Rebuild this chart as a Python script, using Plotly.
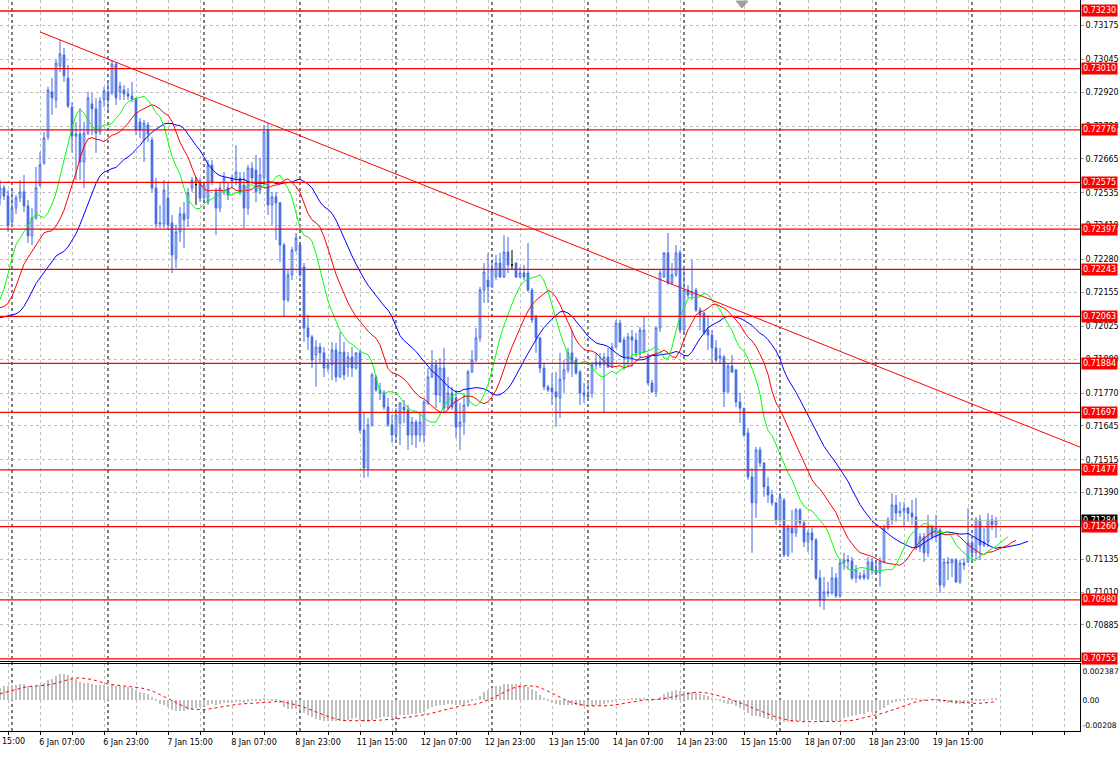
import numpy as np
import pandas as pd
import plotly.graph_objects as go

# ---------------- DATA (prices in points of 0.00001) ----------------
open_pts = [72516,72554,72523,72424,72477,72516,72539,72485,72371,72439,
72565,72649,72749,72921,72890,73020,73062,72974,72863,72752,
72760,72653,72764,72875,72856,72768,72890,72921,72917,73027,
72921,72928,72913,72905,72894,72806,72737,72795,72737,72554,
72416,72416,72516,72420,72286,72386,72455,72439,72554,72567,
72577,72516,72500,72642,72539,72477,72573,72554,72592,72592,
72592,72565,72477,72630,72623,72546,72592,72775,72489,72520,
72497,72336,72126,72222,72317,72336,72252,72019,71985,71916,
71946,71924,71866,71878,71935,71832,71927,71870,71908,71866,
71924,71629,71484,71649,71832,71782,71771,71717,71649,71610,
71656,71717,71706,71610,71660,71610,71610,71733,71832,71878,
71763,71866,71713,71771,71752,71641,71660,71725,71851,71897,
71981,72164,72202,72176,72214,72267,72214,72309,72260,72267,
72214,72229,72229,72164,72061,71981,71866,71794,71790,71775,
71752,71824,71859,71924,71897,71851,71771,71763,71771,71878,
71889,71878,71908,71870,71946,72038,71973,71908,71985,71973,
71924,71927,71908,71809,71775,72019,72214,72306,72191,72222,
72306,72011,72164,72145,72164,72088,72076,72011,71992,71943,
71904,71908,71775,71874,71859,71736,71713,71618,71450,71351,
71553,71503,71412,71381,71351,71286,71362,71152,71255,71236,
71324,71274,71202,71236,71209,71064,70980,71011,71007,71064,
70995,71121,71133,71129,71064,71064,71076,71064,71125,71095,
71083,71125,71255,71286,71343,71312,71320,71331,71312,71297,
71179,71221,71160,71259,71221,71247,71037,71125,71121,71133,
71049,71121,71125,71198,71160,71286,71190,71202,71286,71267]

high_pts = [72584,72565,72546,72554,72527,72584,72604,72508,72477,72634,
72691,72768,72940,72974,73043,73119,73089,73024,72882,72806,
72859,72806,72921,72917,72898,72901,72940,72959,73043,73035,
72959,72947,72936,72959,72901,72821,72814,72806,72749,72592,
72489,72584,72577,72451,72413,72481,72500,72554,72596,72596,
72592,72577,72661,72661,72554,72577,72615,72573,72604,72718,
72615,72615,72642,72653,72680,72668,72795,72802,72539,72539,
72500,72344,72241,72329,72382,72348,72267,72069,71992,71973,
71962,71946,71904,71966,71962,72004,71966,71927,71946,71927,
71935,71698,71675,71847,71840,71809,71782,71752,71687,71713,
71736,71744,71725,71679,71668,71694,71744,71866,71935,71897,
71904,71943,71832,71794,71782,71733,71763,71859,71935,72019,
72176,72267,72306,72279,72298,72306,72374,72367,72317,72271,
72252,72260,72344,72172,72069,71985,71885,71801,71847,71851,
71924,71897,71943,72011,71908,71859,71809,71809,71889,71924,
71924,71924,71943,71962,72050,72050,71985,72000,72011,72000,
72023,72061,71924,71820,72023,72241,72309,72382,72267,72336,
72317,72241,72183,72279,72172,72099,72080,72069,72011,71973,
71943,71916,71885,71916,71859,71771,71713,71637,71484,71565,
71565,71507,71450,71400,71354,71389,71370,71267,71324,71331,
71331,71286,71247,71255,71217,71095,71068,71049,71106,71083,
71133,71160,71152,71144,71114,71087,71095,71144,71140,71133,
71144,71267,71297,71389,71381,71354,71354,71335,71362,71370,
71236,71236,71305,71267,71305,71255,71140,71144,71140,71140,
71133,71140,71331,71210,71297,71305,71255,71312,71305,71297]

low_pts = [72489,72508,72386,72416,72455,72500,72462,72344,72336,72432,
72558,72642,72737,72833,72859,72997,72959,72859,72688,72584,
72584,72554,72756,72756,72688,72756,72863,72844,72909,72871,
72890,72890,72890,72882,72756,72745,72653,72730,72539,72401,
72401,72401,72393,72229,72248,72348,72325,72405,72539,72489,
72500,72500,72489,72565,72374,72462,72527,72508,72554,72565,
72527,72401,72451,72577,72500,72530,72565,72451,72413,72355,
72271,72061,72118,72202,72309,72214,71966,71935,71866,71794,
71885,71832,71851,71820,71813,71828,71820,71832,71832,71859,
71618,71446,71450,71641,71775,71744,71706,71641,71580,71591,
71572,71656,71553,71572,71561,71584,71580,71725,71828,71713,
71733,71698,71706,71706,71599,71553,71610,71717,71847,71889,
71966,72115,72115,72172,72202,72210,72210,72229,72241,72210,
72210,72202,72157,72038,71924,71847,71782,71775,71725,71641,
71675,71771,71847,71832,71840,71725,71733,71752,71752,71859,
71866,71694,71866,71866,71943,71962,71859,71870,71870,71908,
71908,71924,71801,71771,71756,72004,72210,72183,72183,72214,
72000,72000,72134,72126,72080,72011,71992,71935,71885,71889,
71885,71717,71771,71847,71717,71656,71603,71439,71160,71293,
71488,71374,71351,71339,71267,71274,71144,71144,71160,71221,
71259,71182,71163,71133,71056,70953,70942,70992,70999,70988,
70988,71095,71095,71056,71045,71056,71056,71056,71076,71076,
71030,71121,71247,71267,71278,71297,71259,71278,71267,71171,
71163,71125,71144,71210,71202,71007,71026,71056,71068,71045,
71041,71095,71121,71133,71133,71133,71182,71182,71247,71217]

close_pts = [72554,72523,72409,72477,72516,72539,72485,72371,72439,72554,
72642,72745,72928,72898,73031,73066,72982,72867,72752,72760,
72653,72764,72898,72856,72764,72886,72924,72890,73027,72898,
72943,72913,72905,72894,72775,72775,72802,72760,72554,72416,
72420,72546,72413,72298,72386,72455,72432,72535,72584,72567,
72516,72565,72642,72577,72477,72554,72592,72527,72581,72615,
72539,72477,72630,72592,72539,72604,72768,72489,72520,72497,
72336,72126,72222,72317,72363,72222,72019,71985,71897,71946,
71924,71866,71878,71935,71832,71927,71840,71908,71866,71924,
71629,71484,71649,71840,71782,71771,71717,71649,71610,71687,
71733,71706,71610,71660,71610,71660,71736,71832,71878,71763,
71866,71713,71771,71717,71641,71660,71725,71851,71897,71981,
72164,72233,72176,72241,72267,72214,72309,72260,72260,72214,
72229,72214,72164,72050,71981,71866,71794,71782,71775,71756,
71824,71859,71924,71885,71847,71771,71763,71756,71878,71889,
71878,71908,71870,71946,72038,71966,71908,71985,71973,71924,
72011,72011,71809,71775,72019,72229,72306,72191,72222,72306,
72011,72164,72145,72157,72088,72069,72000,71992,71943,71897,
71912,71775,71874,71851,71736,71713,71610,71450,71351,71553,
71503,71412,71381,71351,71286,71374,71152,71255,71236,71324,
71274,71202,71236,71209,71064,70980,71011,71007,71064,70995,
71121,71133,71129,71064,71095,71072,71064,71125,71095,71083,
71125,71255,71286,71343,71312,71320,71331,71312,71297,71179,
71221,71160,71259,71221,71255,71037,71125,71121,71133,71049,
71121,71114,71198,71160,71286,71190,71202,71286,71267,71284]

# estimated closes before the first visible bar (indicator warm-up only)
hist_close_pts = [71600,71620,71610,71640,71660,71650,71680,71700,71690,71720,
71740,71730,71760,71780,71770,71800,71820,71810,71840,71860,
71880,71900,71870,71920,71950,71930,71960,71990,71970,72000,
72020,72000,72040,72060,72050,72080,72070,72100,72090,72110,
72080,72100,72120,72090,72110,72130,72100,72090,72120,72110,
72100,72120,72090,72110,72100,72110,72130,72200,72330,72450]

level_prices = [0.73230,0.73010,0.72776,0.72575,0.72397,0.72243,0.72063,
                0.71884,0.71697,0.71477,0.71260,0.70980,0.70755]
bid_price = 0.71284
trend_bars = [10, 270]
trend_prices = [0.73150, 0.71564]

price_ticks = [0.73175,0.73045,0.72920,0.72790,0.72665,0.72535,0.72410,0.72280,
               0.72155,0.72025,0.71900,0.71770,0.71645,0.71515,0.71390,0.71260,
               0.71135,0.71010,0.70885]
macd_ticks = [0.002387, 0.0, -0.00208]
macd_ticktext = ["0.002387", "0.00", "-0.00208"]

time_labels = ["6 Jan 07:00","6 Jan 23:00","7 Jan 15:00","8 Jan 07:00","8 Jan 23:00",
               "11 Jan 15:00","12 Jan 07:00","12 Jan 23:00","13 Jan 15:00","14 Jan 07:00",
               "14 Jan 23:00","15 Jan 15:00","18 Jan 07:00","18 Jan 23:00","19 Jan 15:00"]
label_bars = [10 + 16 * j for j in range(len(time_labels))]
grid_bars = [2 + 8 * j for j in range(34)]
separator_bars = [3 + 24 * j for j in range(11)]

# ---------------- PREP ----------------
O = np.array(open_pts) / 1e5
H = np.array(high_pts) / 1e5
L = np.array(low_pts) / 1e5
C = np.array(close_pts) / 1e5
H = np.maximum.reduce([H, O, C])
L = np.minimum.reduce([L, O, C])
n = len(C)
k = np.arange(n)
hist = np.array(hist_close_pts) / 1e5
nh = len(hist)

median_all = np.concatenate([hist, (H + L) / 2])
close_all = np.concatenate([hist, C])
idx_all = np.arange(-nh, n)


def smma(vals, p):
    out = np.full(len(vals), np.nan)
    out[p - 1] = vals[:p].mean()
    for i in range(p, len(vals)):
        out[i] = (out[i - 1] * (p - 1) + vals[i]) / p
    return out


jaw = smma(median_all, 13)
teeth = smma(median_all, 8)
lips = smma(median_all, 5)

cs = pd.Series(close_all)
macd = (cs.ewm(span=12, adjust=False).mean() - cs.ewm(span=26, adjust=False).mean()).values
signal = pd.Series(macd).rolling(9).mean().values
vis = idx_all >= 0

BLUE = "#4169E1"
FONT = "DejaVu Sans"
FS = 8

fig = go.Figure()

doji = O == C
nd = ~doji
fig.add_trace(go.Candlestick(
    x=k[nd], open=O[nd], high=H[nd], low=L[nd], close=C[nd],
    increasing=dict(line=dict(color=BLUE, width=1), fillcolor="white"),
    decreasing=dict(line=dict(color=BLUE, width=1), fillcolor=BLUE),
    whiskerwidth=0, hoverinfo="skip", xaxis="x", yaxis="y"))
fig.add_trace(go.Candlestick(
    x=k[doji], open=O[doji], high=H[doji], low=L[doji], close=C[doji],
    increasing=dict(line=dict(color="black", width=1), fillcolor="black"),
    decreasing=dict(line=dict(color="black", width=1), fillcolor="black"),
    whiskerwidth=0, hoverinfo="skip", xaxis="x", yaxis="y"))

for vals, shift, col in [(jaw, 8, "#0000FF"), (teeth, 5, "#FF0000"), (lips, 3, "#00FF00")]:
    xs = idx_all + shift
    m = (xs >= 0) & ~np.isnan(vals)
    fig.add_trace(go.Scatter(x=xs[m], y=vals[m], mode="lines",
                             line=dict(color=col, width=1), hoverinfo="skip",
                             xaxis="x", yaxis="y"))

fig.add_trace(go.Scatter(x=trend_bars, y=trend_prices, mode="lines",
                         line=dict(color="#FF0000", width=1), hoverinfo="skip",
                         xaxis="x", yaxis="y"))

fig.add_trace(go.Bar(x=idx_all[vis], y=macd[vis], width=0.3,
                     marker=dict(color="#C0C0C0", line=dict(width=0)),
                     hoverinfo="skip", xaxis="x2", yaxis="y2"))
fig.add_trace(go.Scatter(x=idx_all[vis], y=signal[vis], mode="lines",
                         line=dict(color="#FF0000", width=1, dash="3px,3px"),
                         hoverinfo="skip", xaxis="x2", yaxis="y2"))

shapes = []
for s in separator_bars:
    shapes.append(dict(type="line", xref="x", yref="paper", x0=s, x1=s, y0=0, y1=1,
                       line=dict(color="black", width=1, dash="3px,3px"), layer="below"))
for lv in level_prices:
    shapes.append(dict(type="line", xref="paper", yref="y", x0=0, x1=1, y0=lv, y1=lv,
                       line=dict(color="#FF0000", width=1.3), layer="above"))
shapes.append(dict(type="line", xref="paper", yref="y", x0=0, x1=1, y0=bid_price, y1=bid_price,
                   line=dict(color="#C0C0C0", width=1), layer="above"))
shapes.append(dict(type="path", xref="paper", yref="paper",
                   path="M 0.6815,0.9986 L 0.6926,0.9986 L 0.687,0.9890 Z",
                   fillcolor="#A0A0A0", line=dict(color="#A0A0A0", width=1)))

annotations = []
annotations.append(dict(xref="paper", yref="y", x=1, y=bid_price, xanchor="left", xshift=1,
                        text=f"{bid_price:.5f}", showarrow=False, bgcolor="black",
                        font=dict(family=FONT, size=FS, color="white"), borderpad=1))
for lv in level_prices:
    annotations.append(dict(xref="paper", yref="y", x=1, y=lv, xanchor="left", xshift=1,
                            text=f"{lv:.5f}", showarrow=False, bgcolor="#FF0000",
                            font=dict(family=FONT, size=FS, color="white"), borderpad=1))
annotations.append(dict(xref="paper", yref="paper", x=0, y=0, xanchor="left", yanchor="top",
                        yshift=-4, text="15:00", showarrow=False,
                        font=dict(family=FONT, size=FS, color="black")))

ticktext_x = []
for g in grid_bars:
    ticktext_x.append(time_labels[label_bars.index(g)] if g in label_bars else "")

grid_common = dict(showgrid=True, gridcolor="#C0C0C0", griddash="3px,3px", gridwidth=1,
                   zeroline=False, automargin=False)

fig.update_layout(
    width=1120, height=757, margin=dict(l=0, r=40, t=0, b=26, autoexpand=False),
    paper_bgcolor="white", plot_bgcolor="white", showlegend=False,
    font=dict(family=FONT, size=FS, color="black"),
    shapes=shapes, annotations=annotations, bargap=0, boxgap=0.4,
    xaxis=dict(domain=[0, 1], anchor="y", range=[0, 270], tickvals=grid_bars,
               showticklabels=False, ticks="", rangeslider=dict(visible=False),
               showline=True, linecolor="black", mirror=True, **grid_common),
    yaxis=dict(domain=[0.0951, 1], anchor="x", range=[0.70745, 0.73272], side="right",
               tickvals=price_ticks, tickformat=".5f", ticks="outside", ticklen=3,
               tickcolor="#A0A0A0", showline=True, linecolor="black", mirror=True,
               tickfont=dict(family=FONT, size=FS, color="black"), **grid_common),
    xaxis2=dict(domain=[0, 1], anchor="y2", matches="x", range=[0, 270],
                tickvals=grid_bars, ticktext=ticktext_x, ticks="outside", ticklen=3,
                tickcolor="black", ticklabelshift=22, rangeslider=dict(visible=False),
                showline=True, linecolor="black", mirror=True,
                tickfont=dict(family=FONT, size=FS, color="black"), **grid_common),
    yaxis2=dict(domain=[0, 0.091], anchor="x2", range=[-0.00253, 0.00293], side="right",
                tickvals=macd_ticks, ticktext=macd_ticktext, ticks="",
                showgrid=False, zeroline=False, automargin=False,
                showline=True, linecolor="black", mirror=True,
                tickfont=dict(family=FONT, size=7.6, color="black")),
)

fig.write_html("out.html", config={"displayModeBar": False},
               post_script="document.body.style.margin='0';document.body.style.overflow='hidden';")
